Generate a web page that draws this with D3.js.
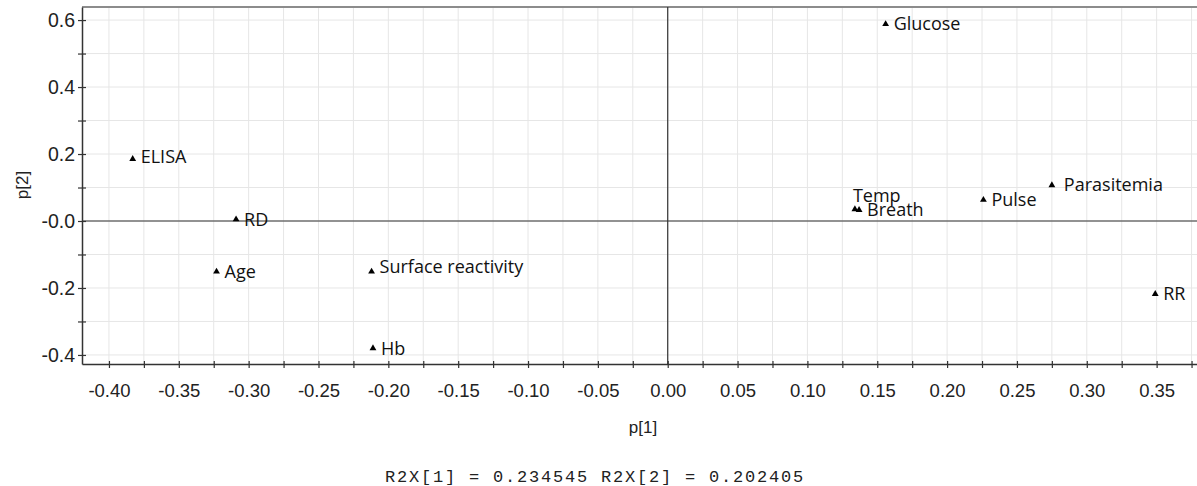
<!DOCTYPE html>
<html>
<head>
<meta charset="utf-8">
<script src="https://cdn.jsdelivr.net/npm/d3@7"></script>
<style>
  body { margin: 0; background: #fff; }
  svg { display: block; }
</style>
</head>
<body>
<div class="container"></div>
<script>
// loadings
const names = ["ELISA", "RD", "Age", "Surface reactivity", "Hb", "Glucose", "Temp", "Breath", "Pulse", "Parasitemia", "RR"];
const p1 = [-0.383, -0.309, -0.323, -0.212, -0.211, 0.156, 0.134, 0.137, 0.226, 0.275, 0.349];
const p2 = [0.185, 0.005, -0.151, -0.151, -0.380, 0.588, 0.035, 0.033, 0.063, 0.107, -0.218];

// ticks
const xTicks = d3.range(-16, 16).map(i => i * 0.025);
const xTickLabels = ["-0.40", "-0.35", "-0.30", "-0.25", "-0.20", "-0.15", "-0.10", "-0.05", "0.00", "0.05", "0.10", "0.15", "0.20", "0.25", "0.30", "0.35"];
const yTicks = [-0.4, -0.3, -0.2, -0.1, 0, 0.1, 0.2, 0.3, 0.4, 0.5, 0.6];
const yTickLabels = ["-0.4", "-0.2", "-0.0", "0.2", "0.4", "0.6"];
const footer = "R2X[1] = 0.234545 R2X[2] = 0.202405";

// label nudges (px) for the few labels that sit off the default spot
const nudge = {
  "ELISA": [0, -2],
  "Surface reactivity": [0, -5],
  "Parasitemia": [4, 0],
  "Temp": [-10, -14]
};

const W = 1197, H = 486;
const plot = { left: 82, right: 1197, top: 7, bottom: 364 };

const svg = d3.select(".container").append("svg")
  .attr("width", W).attr("height", H);

const x = d3.scaleLinear().domain([-0.4193, 0.3789]).range([plot.left, plot.right]);
const y = d3.scaleLinear().domain([-0.427, 0.639]).range([plot.bottom, plot.top]);

// grid
svg.append("g").selectAll("line")
  .data(xTicks).enter().append("line")
  .attr("x1", d => x(d)).attr("x2", d => x(d))
  .attr("y1", plot.top).attr("y2", plot.bottom)
  .attr("stroke", "#e6e6e6").attr("stroke-width", 1);
svg.append("g").selectAll("line")
  .data(yTicks).enter().append("line")
  .attr("x1", plot.left).attr("x2", plot.right)
  .attr("y1", d => y(d)).attr("y2", d => y(d))
  .attr("stroke", "#e6e6e6").attr("stroke-width", 1);

// top border
svg.append("line")
  .attr("x1", plot.left).attr("x2", plot.right)
  .attr("y1", plot.top).attr("y2", plot.top)
  .attr("stroke", "#8c8c8c").attr("stroke-width", 2);

// zero lines
svg.append("line")
  .attr("x1", plot.left).attr("x2", plot.right)
  .attr("y1", y(0)).attr("y2", y(0))
  .attr("stroke", "#333").attr("stroke-width", 1.2);
svg.append("line")
  .attr("x1", x(0)).attr("x2", x(0))
  .attr("y1", plot.top).attr("y2", plot.bottom)
  .attr("stroke", "#333").attr("stroke-width", 1.2);

// x axis
const xLabelOf = d => {
  const k = Math.round(d / 0.05 + 8);
  return Math.abs(d / 0.05 - Math.round(d / 0.05)) < 1e-6 ? xTickLabels[k] : "";
};
svg.append("g")
  .attr("transform", `translate(0,${plot.bottom})`)
  .call(d3.axisBottom(x).tickValues(xTicks).tickFormat(xLabelOf).tickSizeInner(4).tickSizeOuter(0).tickPadding(16))
  .call(g => g.select(".domain").attr("stroke", "#333").attr("stroke-width", 1.5))
  .call(g => g.selectAll(".tick line").attr("y1", -3).attr("stroke", "#333").attr("stroke-width", 1.2))
  .call(g => g.selectAll(".tick text")
    .attr("fill", "#222")
    .style("font-family", "'Liberation Sans', Arial, sans-serif")
    .style("font-size", "18.5px"));

// y axis
const yLabelOf = d => {
  const k = Math.round(d / 0.2 + 2);
  return Math.abs(d / 0.2 - Math.round(d / 0.2)) < 1e-6 ? yTickLabels[k] : "";
};
svg.append("g")
  .attr("transform", `translate(${plot.left},0)`)
  .call(d3.axisLeft(y).tickValues(yTicks).tickFormat(yLabelOf).tickSizeInner(4).tickSizeOuter(0).tickPadding(3))
  .call(g => g.select(".domain").attr("stroke", "#333").attr("stroke-width", 1.5))
  .call(g => g.selectAll(".tick line").attr("x1", 4).attr("stroke", "#333").attr("stroke-width", 1.2))
  .call(g => g.selectAll(".tick text")
    .attr("fill", "#222")
    .style("font-family", "'Liberation Sans', Arial, sans-serif")
    .style("font-size", "19.5px"));

// axis titles
svg.append("text")
  .attr("x", 643).attr("y", 433)
  .attr("text-anchor", "middle")
  .attr("fill", "#222")
  .style("font-family", "'Liberation Sans', Arial, sans-serif")
  .style("font-size", "17px")
  .text("p[1]");
svg.append("text")
  .attr("transform", "translate(28,185) rotate(-90)")
  .attr("text-anchor", "middle")
  .attr("fill", "#222")
  .style("font-family", "'Liberation Sans', Arial, sans-serif")
  .style("font-size", "17px")
  .text("p[2]");

// points
const pts = names.map((n, i) => ({ name: n, p1: p1[i], p2: p2[i] }));
const tri = d3.symbol().type(d3.symbolTriangle).size(20);

const g = svg.append("g");
g.selectAll("path.pt")
  .data(pts).enter().append("path")
  .attr("class", "pt")
  .attr("transform", d => `translate(${x(d.p1)},${y(d.p2)})`)
  .attr("d", tri)
  .attr("fill", "#000");

g.selectAll("text.lbl")
  .data(pts).enter().append("text")
  .attr("class", "lbl")
  .attr("x", d => x(d.p1) + 8 + (nudge[d.name] ? nudge[d.name][0] : 0))
  .attr("y", d => y(d.p2) + (nudge[d.name] ? nudge[d.name][1] : 0))
  .attr("dy", "0.35em")
  .attr("fill", "#111")
  .style("font-family", "'Open Sans', 'Noto Sans', sans-serif")
  .style("font-size", "18px")
  .text(d => d.name);

// footer
svg.append("text")
  .attr("x", 385).attr("y", 482)
  .attr("fill", "#222")
  .style("font-family", "'Liberation Mono', 'Courier New', monospace")
  .style("font-size", "17px")
  .style("letter-spacing", "1.8px")
  .text(footer);
</script>
</body>
</html>
